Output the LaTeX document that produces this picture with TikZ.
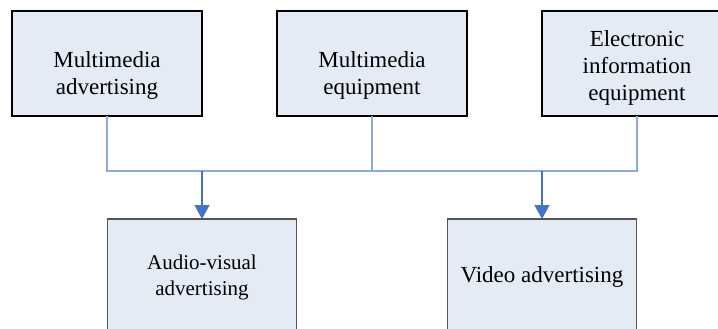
\documentclass[tikz,border=0pt]{standalone}
\usepackage{fontspec}
\setmainfont{Liberation Serif}
\usepackage{xcolor}
\usepackage{tikz}
\usetikzlibrary{arrows.meta,calc,positioning}

\definecolor{boxfill}{HTML}{E5EBF5}
\definecolor{busblue}{HTML}{8EAADB}
\definecolor{arrowblue}{HTML}{4472C4}
\definecolor{lowedge}{HTML}{555555}

\begin{document}
\begin{tikzpicture}[
			x=1pt, y=-1pt,
			>={Triangle[width=15pt,length=14pt]},
			node distance=75pt,
			topbox/.style={draw=black, line width=1.2pt, fill=boxfill, rectangle, minimum height=105pt, minimum width=190pt, outer sep=0pt},
			lowbox/.style={draw=lowedge, line width=1.4pt, fill=boxfill, rectangle, minimum height=116pt, minimum width=189pt, align=center, outer sep=0pt, font=\fontsize{23}{27}\selectfont},
			boxtext/.style={align=center, font=\fontsize{23}{27}\selectfont},
			bus/.style={draw=busblue, line width=1.3pt},
			feed/.style={->, draw=arrowblue, fill=arrowblue, line width=1.3pt}
			]
			\useasboundingbox (0,0) rectangle (718,329);
			
			\node[topbox] (mmad) at (107,63.5) {};
			\node[topbox, right=of mmad] (mmeq) {};
			\node[topbox, right=of mmeq] (eleq) {};
			% the source texts sit a little low in their boxes
			\node[boxtext] (mmadtxt) at ($(mmad.center)+(0,12)$) {Multimedia\\advertising};
			\node[boxtext] (mmeqtxt) at ($(mmeq.center)+(0,12)$) {Multimedia\\equipment};
			\node[boxtext] (eleqtxt) at ($(eleq.center)+(0,4.5)$) {Electronic\\information\\equipment};
			
			\node[lowbox, below=103pt of mmad.south east, font=\fontsize{21}{26}\selectfont] (avad) {Audio-visual\\advertising};
			\node[lowbox, right=151pt of avad] (vdad) {Video advertising};
			
			% bus joining the three sources
			\coordinate (busl) at ($(mmad.south)+(0,55)$);
			\draw[bus] (mmad.south) -- (busl) -| (eleq.south);
			\draw[bus] (mmeq.south) -- (mmeq.south |- busl);
			
			\draw[feed] (avad.north |- busl) -- (avad.north);
			\draw[feed] (vdad.north |- busl) -- (vdad.north);
		\end{tikzpicture}
\end{document}
